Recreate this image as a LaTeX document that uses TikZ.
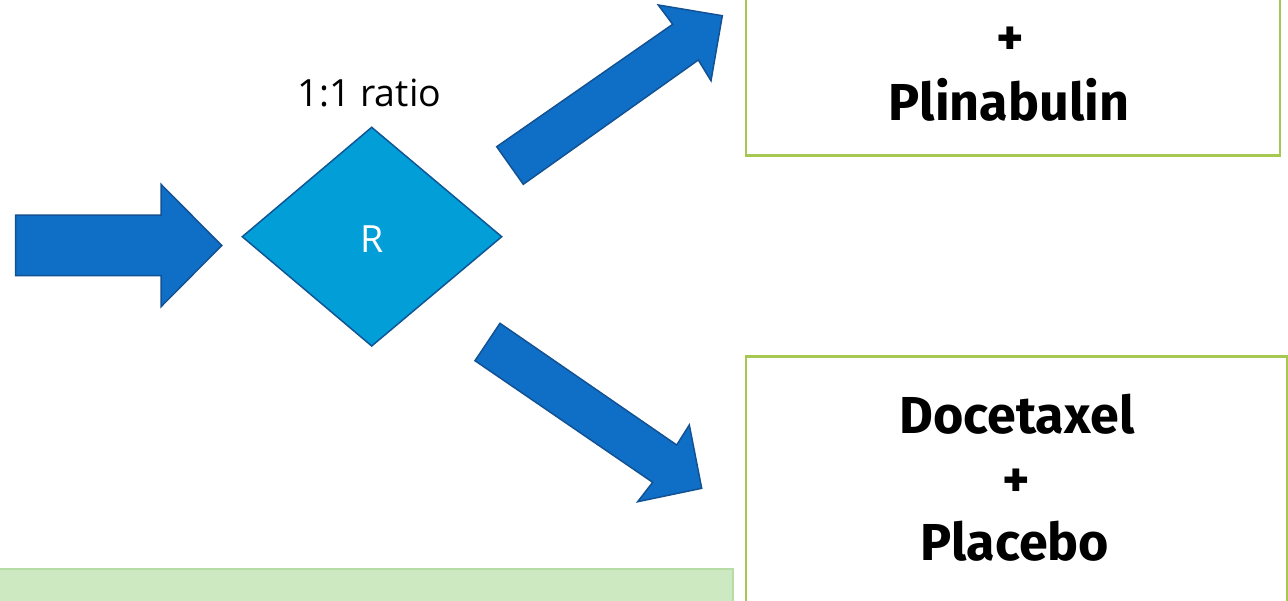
\documentclass[tikz,border=0pt]{standalone}
\usepackage{fontspec}
\setmainfont{Open Sans}
\newfontfamily\boxfont{Fira Sans}
\definecolor{arrowblue}{RGB}{15,111,198}
\definecolor{arrowedge}{RGB}{18,82,148}
\definecolor{diamfill}{RGB}{2,158,216}
\definecolor{diamedge}{RGB}{16,86,150}
\definecolor{boxedge}{RGB}{166,200,80}
\definecolor{greenfill}{RGB}{204,233,194}
\definecolor{greenedge}{RGB}{182,221,166}
\tikzset{
  blockarrow/.style={fill=arrowblue, draw=arrowedge, line width=1.5pt, line join=miter},
  diamondshape/.style={fill=diamfill, draw=diamedge, line width=1.5pt},
  armbox/.style={draw=boxedge, line width=2.5pt, fill=white},
  notebox/.style={fill=greenfill, draw=greenedge, line width=2pt},
  armtext/.style={font=\boxfont\bfseries\fontsize{52}{60}\selectfont, anchor=base, inner sep=0pt},
  labeltext/.style={font=\fontsize{37.5}{44}\selectfont, anchor=base, inner sep=0pt}
}
\begin{document}
\begin{tikzpicture}[x=1pt, y=-1pt]
\useasboundingbox (0,0) rectangle (1288,600);
% boxes
\draw[armbox] (746,-20) rectangle (1280,155.7);
\draw[armbox] (746,356.7) rectangle (1287,630);
\draw[notebox] (-10,568.5) rectangle (733,630);
% left arrow
\draw[blockarrow] (15.7,215) -- (161,215) -- (161,184.3) -- (221.7,245.5) -- (161,306.7) -- (161,275.7) -- (15.7,275.7) -- cycle;
% diamond
\draw[diamondshape] (242.3,236.7) -- (371.7,127.3) -- (501.7,236.7) -- (371.7,346) -- cycle;
\node[labeltext, text=white] (r) at (372.5,252.7) {R};
\node[labeltext] (ratio) at (369.5,106.7) {1:1 ratio};
% upper arrow
\draw[blockarrow] (496.7,146.7) -- (672.7,24.3) -- (658.3,5) -- (722.3,15.7) -- (711,80.7) -- (698.3,60) -- (523.3,184.3) -- cycle;
% lower arrow
\draw[blockarrow] (500,323.3) -- (676.7,445) -- (689.3,425) -- (701.7,488.3) -- (637.7,501.7) -- (652.7,482.3) -- (475,360.7) -- cycle;
% texts
\node[armtext] (plus1) at (1010,55.5) {+};
\node[armtext] (plin) at (1009,120) {Plinabulin};
\node[armtext] (doce) at (1017,433.3) {Docetaxel};
\node[armtext] (plus2) at (1016,497.5) {+};
\node[armtext] (plac) at (1015,560) {Placebo};
\end{tikzpicture}
\end{document}
